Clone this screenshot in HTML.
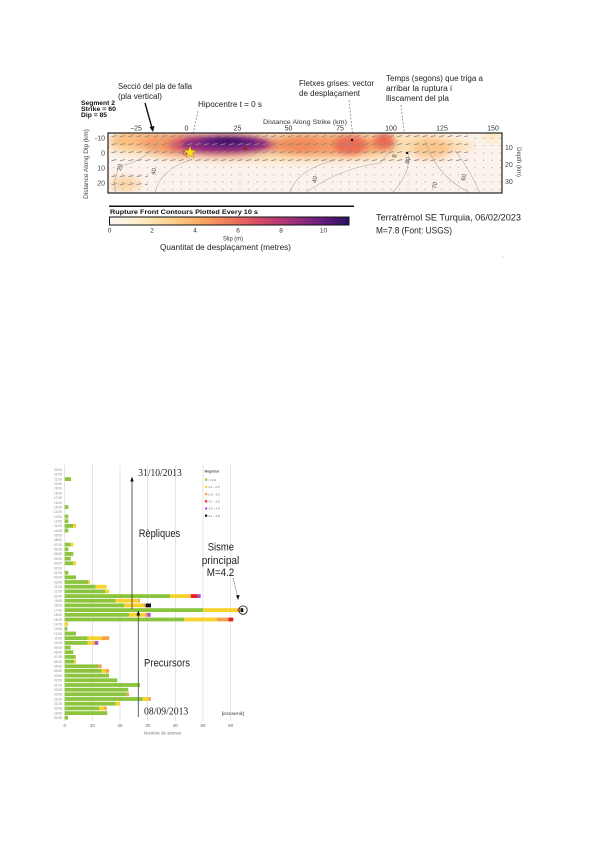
<!DOCTYPE html>
<html><head><meta charset="utf-8"><style>
html,body{margin:0;padding:0;background:#fff;}
svg{display:block;}
text{font-family:"Liberation Sans",sans-serif;}
.serif{font-family:"Liberation Serif",serif;}
</style></head><body>
<svg width="600" height="848" viewBox="0 0 600 848" xmlns="http://www.w3.org/2000/svg">
<defs>
<filter id="bl" x="-50%" y="-50%" width="200%" height="200%"><feGaussianBlur stdDeviation="4"/></filter>
<filter id="bl3" x="-50%" y="-50%" width="200%" height="200%"><feGaussianBlur stdDeviation="3"/></filter>
<filter id="bl2" x="-50%" y="-50%" width="200%" height="200%"><feGaussianBlur stdDeviation="2.5"/></filter>
<clipPath id="box"><rect x="108" y="133" width="394" height="60"/></clipPath>
<pattern id="dash" x="110" y="132" width="8.4" height="8" patternUnits="userSpaceOnUse"><line x1="1.6" y1="4.7" x2="6.6" y2="3.6" stroke="#8a8a8a" stroke-width="0.85"/></pattern>
<pattern id="dots" x="112" y="164" width="8.4" height="7.3" patternUnits="userSpaceOnUse"><circle cx="2" cy="3.5" r="0.55" fill="#999"/></pattern>
<linearGradient id="cb" x1="0" x2="1" y1="0" y2="0">
<stop offset="0" stop-color="#fdf7f4"/><stop offset="0.12" stop-color="#fdeecb"/><stop offset="0.25" stop-color="#fcd48e"/><stop offset="0.38" stop-color="#f9a865"/><stop offset="0.5" stop-color="#ef7a58"/><stop offset="0.62" stop-color="#d84c68"/><stop offset="0.75" stop-color="#a8327a"/><stop offset="0.88" stop-color="#6a1e80"/><stop offset="1" stop-color="#2a1060"/>
</linearGradient>
</defs>

<!-- ================= TOP FIGURE ================= -->
<text x="118" y="89" font-size="8" fill="#222" textLength="74" lengthAdjust="spacingAndGlyphs">Secció del pla de falla</text>
<text x="118" y="99" font-size="8" fill="#222" textLength="44" lengthAdjust="spacingAndGlyphs">(pla vertical)</text>
<line x1="145" y1="103" x2="152" y2="128" stroke="#111" stroke-width="1.4"/>
<polygon points="149.5,127 154.5,126 153,132" fill="#111"/>

<text x="81" y="105" font-size="6" font-weight="bold" fill="#111" textLength="34" lengthAdjust="spacingAndGlyphs">Segment 2</text>
<text x="81" y="111" font-size="6" font-weight="bold" fill="#111" textLength="35" lengthAdjust="spacingAndGlyphs">Strike = 60</text>
<text x="81" y="117" font-size="6" font-weight="bold" fill="#111" textLength="26" lengthAdjust="spacingAndGlyphs">Dip = 85</text>

<text x="198" y="107" font-size="8" fill="#222" textLength="64" lengthAdjust="spacingAndGlyphs">Hipocentre t = 0 s</text>
<line x1="198" y1="111" x2="190" y2="148" stroke="#777" stroke-width="0.7" stroke-dasharray="2,1.5"/>

<text x="299" y="86" font-size="8" fill="#222" textLength="75" lengthAdjust="spacingAndGlyphs">Fletxes grises: vector</text>
<text x="299" y="96" font-size="8" fill="#222" textLength="61" lengthAdjust="spacingAndGlyphs">de desplaçament</text>
<line x1="349" y1="100" x2="353" y2="138" stroke="#777" stroke-width="0.7" stroke-dasharray="2,1.5"/>

<text x="386" y="81" font-size="8" fill="#222" textLength="97" lengthAdjust="spacingAndGlyphs">Temps (segons) que triga a</text>
<text x="386" y="91" font-size="8" fill="#222" textLength="66" lengthAdjust="spacingAndGlyphs">arribar la ruptura i</text>
<text x="386" y="101" font-size="8" fill="#222" textLength="63" lengthAdjust="spacingAndGlyphs">lliscament del pla</text>
<line x1="401" y1="105" x2="405" y2="140" stroke="#777" stroke-width="0.7" stroke-dasharray="2,1.5"/>

<text x="263" y="124" font-size="6.5" fill="#333" textLength="84" lengthAdjust="spacingAndGlyphs">Distance Along Strike (km)</text>
<g font-size="7" fill="#333" text-anchor="middle">
<text x="136" y="130.5">−25</text><text x="186.5" y="130.5">0</text><text x="237.5" y="130.5">25</text><text x="288.5" y="130.5">50</text>
<text x="340" y="130.5">75</text><text x="391" y="130.5">100</text><text x="442" y="130.5">125</text><text x="493" y="130.5">150</text>
</g>
<g font-size="7" fill="#444" text-anchor="end">
<text x="105" y="140.5">-10</text><text x="105" y="155.5">0</text><text x="105" y="170.5">10</text><text x="105" y="185.5">20</text>
</g>
<g font-size="7" fill="#444">
<text x="505" y="150">10</text><text x="505" y="167">20</text><text x="505" y="184">30</text>
</g>
<text transform="translate(88,164) rotate(-90)" font-size="6.5" fill="#444" text-anchor="middle">Distance Along Dip (km)</text>
<text transform="translate(517,162) rotate(90)" font-size="6" fill="#444" text-anchor="middle">Depth (km)</text>

<!-- heatmap -->
<g clip-path="url(#box)">
<rect x="108" y="133" width="394" height="60" fill="#fcf2ed"/>
<g filter="url(#bl)">
<ellipse cx="290" cy="146" rx="185" ry="16" fill="#fde0b4"/>
<ellipse cx="125" cy="184" rx="15" ry="7" fill="#fbd2a0"/>
<ellipse cx="432" cy="148" rx="20" ry="11" fill="#fbc68a"/>
<ellipse cx="492" cy="136" rx="9" ry="5" fill="#fde4b4"/>
<ellipse cx="140" cy="140" rx="30" ry="10" fill="#fbbc7c"/>
<ellipse cx="180" cy="144" rx="40" ry="12" fill="#f59c62"/>
<ellipse cx="325" cy="145" rx="72" ry="11" fill="#f3985e"/>
<ellipse cx="222" cy="145" rx="55" ry="11" fill="#cf4b6c"/>
<ellipse cx="410" cy="162" rx="6" ry="8" fill="#fcf2ed"/>
</g>
<g filter="url(#bl3)">
<ellipse cx="350" cy="145" rx="16" ry="9" fill="#eb6c52"/>
<ellipse cx="384" cy="141" rx="10" ry="8" fill="#ea6a52"/>
<ellipse cx="300" cy="145" rx="18" ry="7" fill="#f28a5a"/>
</g>
<g filter="url(#bl2)">
<ellipse cx="225" cy="144" rx="44" ry="8" fill="#8a2a80"/>
<ellipse cx="228" cy="142" rx="28" ry="5" fill="#5a1a7a"/>
<ellipse cx="228" cy="141" rx="14" ry="3" fill="#3c1068"/>
</g>
<rect x="108" y="133" width="360" height="30" fill="url(#dash)"/>
<rect x="108" y="165" width="394" height="28" fill="url(#dots)"/>
<rect x="468" y="133" width="34" height="32" fill="url(#dots)"/>
<rect x="108" y="170" width="40" height="16" fill="url(#dash)"/>
<g fill="none" stroke="#aaa" stroke-width="0.6">
<path d="M165,133 Q150,160 120,166 Q112,180 116,193"/>
<path d="M190,160 Q160,170 155,193"/>
<path d="M290,193 Q296,170 335,160"/>
<path d="M305,193 Q340,168 380,163 Q392,150 398,140"/>
<path d="M392,193 Q412,172 408,152"/>
<path d="M425,140 Q435,175 470,193"/>
<path d="M455,150 Q470,170 480,193"/>
</g>
<g font-size="6" fill="#444">
<text transform="translate(121,171) rotate(-80)">20</text>
<text transform="translate(155,175) rotate(-80)">40</text>
<text transform="translate(316,183) rotate(-80)">40</text>
<text transform="translate(396,158) rotate(-80)">8</text>
<text transform="translate(409,164) rotate(-80)">60</text>
<text transform="translate(436,189) rotate(-80)">70</text>
<text transform="translate(465,181) rotate(-80)">60</text>
</g>
<circle cx="352" cy="140" r="1.2" fill="#111"/>
<circle cx="407" cy="153" r="1.2" fill="#111"/>
<rect x="244" y="147" width="3" height="3" fill="#a02020"/>
<circle cx="185" cy="153" r="2" fill="none" stroke="#a03030" stroke-width="0.7"/>
<polygon points="190,146 191.6,150.4 196.2,150.5 192.5,153.3 193.9,157.8 190,155.1 186.1,157.8 187.5,153.3 183.8,150.5 188.4,150.4" fill="#f8e020" stroke="#a07000" stroke-width="0.4"/>
</g>
<rect x="108" y="133" width="394" height="60" fill="none" stroke="#222" stroke-width="1.2"/>

<!-- colorbar -->
<line x1="109" y1="206.3" x2="354" y2="206.3" stroke="#111" stroke-width="1.5"/>
<text x="110" y="214" font-size="6" font-weight="bold" fill="#111" textLength="148" lengthAdjust="spacingAndGlyphs">Rupture Front Contours Plotted Every 10 s</text>
<rect x="109.5" y="217" width="239.5" height="8" fill="url(#cb)" stroke="#111" stroke-width="1"/>
<g font-size="6.5" fill="#333" text-anchor="middle">
<text x="109.5" y="232.5">0</text><text x="152" y="232.5">2</text><text x="195" y="232.5">4</text><text x="238" y="232.5">6</text><text x="281" y="232.5">8</text><text x="323.5" y="232.5">10</text>
</g>
<text x="223" y="240.5" font-size="6.5" fill="#333" textLength="20" lengthAdjust="spacingAndGlyphs">Slip (m)</text>
<text x="160" y="250" font-size="8" fill="#222" textLength="131" lengthAdjust="spacingAndGlyphs">Quantitat de desplaçament (metres)</text>
<text x="376" y="220.5" font-size="9" fill="#222" textLength="145" lengthAdjust="spacingAndGlyphs">Terratrèmol SE Turquia, 06/02/2023</text>
<text x="376" y="233.5" font-size="9" fill="#222" textLength="76" lengthAdjust="spacingAndGlyphs">M=7.8 (Font: USGS)</text>
<circle cx="503" cy="257" r="0.6" fill="#bbb"/>

<!-- ================= BOTTOM CHART ================= -->
<g stroke="#d4d4d4" stroke-width="0.6">
<line x1="64.7" y1="465" x2="64.7" y2="721"/>
<line x1="92.4" y1="465" x2="92.4" y2="721"/>
<line x1="120" y1="465" x2="120" y2="721"/>
<line x1="147.7" y1="465" x2="147.7" y2="721"/>
<line x1="175.3" y1="465" x2="175.3" y2="721"/>
<line x1="203" y1="465" x2="203" y2="721"/>
<line x1="230.6" y1="465" x2="230.6" y2="721"/>
</g>
<g font-size="4.5" fill="#666" text-anchor="middle">
<text x="64.7" y="727">0</text><text x="92.4" y="727">10</text><text x="120" y="727">20</text><text x="147.7" y="727">30</text><text x="175.3" y="727">40</text><text x="203" y="727">50</text><text x="230.6" y="727">60</text>
</g>
<text x="162.5" y="734.5" font-size="4.5" fill="#777" text-anchor="middle">Nombre de sismes</text>

<g font-size="3.2" fill="#888" text-anchor="end">
<text x="62" y="471">23:00</text><text x="62" y="475.7">22:00</text><text x="62" y="480.4">21:00</text><text x="62" y="485">20:00</text><text x="62" y="489.7">19:00</text><text x="62" y="494.4">18:00</text><text x="62" y="499.1">17:00</text><text x="62" y="503.8">16:00</text><text x="62" y="508.4">15:00</text><text x="62" y="513.1">14:00</text><text x="62" y="517.8">13:00</text><text x="62" y="522.5">12:00</text><text x="62" y="527.2">11:00</text><text x="62" y="531.8">10:00</text><text x="62" y="536.5">09:00</text><text x="62" y="541.2">08:00</text><text x="62" y="545.9">07:00</text><text x="62" y="550.6">06:00</text><text x="62" y="555.2">05:00</text><text x="62" y="559.9">04:00</text><text x="62" y="564.6">03:00</text><text x="62" y="569.3">02:00</text><text x="62" y="574">01:00</text><text x="62" y="578.6">00:00</text><text x="62" y="583.3">23:00</text><text x="62" y="588">22:00</text><text x="62" y="592.7">21:00</text><text x="62" y="597.4">20:00</text><text x="62" y="602">19:00</text><text x="62" y="606.7">18:00</text><text x="62" y="611.4">17:00</text><text x="62" y="616.1">16:00</text><text x="62" y="620.8">15:00</text><text x="62" y="625.4">14:00</text><text x="62" y="630.1">13:00</text><text x="62" y="634.8">12:00</text><text x="62" y="639.5">11:00</text><text x="62" y="644.2">10:00</text><text x="62" y="648.8">09:00</text><text x="62" y="653.5">08:00</text><text x="62" y="658.2">07:00</text><text x="62" y="662.9">06:00</text><text x="62" y="667.6">05:00</text><text x="62" y="672.2">04:00</text><text x="62" y="676.9">03:00</text><text x="62" y="681.6">02:00</text><text x="62" y="686.3">01:00</text><text x="62" y="691">00:00</text><text x="62" y="695.6">23:00</text><text x="62" y="700.3">22:00</text><text x="62" y="705">21:00</text><text x="62" y="709.7">20:00</text><text x="62" y="714.4">19:00</text><text x="62" y="719">00:00</text>
</g>

<g>
<g fill="#8cc43e">
<rect x="64.7" y="477.2" width="6.3" height="3.8"/>
<rect x="64.7" y="505.2" width="3.6" height="3.8"/>
<rect x="64.7" y="514.6" width="3.6" height="3.8"/>
<rect x="64.7" y="519.3" width="3.6" height="3.8"/>
<rect x="64.7" y="524" width="8.6" height="3.8"/>
<rect x="64.7" y="528.6" width="3.6" height="3.8"/>
<rect x="64.7" y="542.7" width="6" height="3.8"/>
<rect x="64.7" y="547.4" width="3.6" height="3.8"/>
<rect x="64.7" y="552" width="8.6" height="3.8"/>
<rect x="64.7" y="556.7" width="6" height="3.8"/>
<rect x="64.7" y="561.4" width="8.6" height="3.8"/>
<rect x="64.7" y="570.8" width="3.6" height="3.8"/>
<rect x="64.7" y="575.4" width="11.3" height="3.8"/>
<rect x="64.7" y="580.1" width="23.6" height="3.8"/>
<rect x="64.7" y="584.8" width="31" height="3.8"/>
<rect x="64.7" y="589.5" width="40.3" height="3.8"/>
<rect x="64.7" y="594.2" width="105.3" height="3.8"/>
<rect x="64.7" y="598.8" width="51" height="3.8"/>
<rect x="64.7" y="603.5" width="59.3" height="3.8"/>
<rect x="64.7" y="608.2" width="138.6" height="3.8"/>
<rect x="64.7" y="612.9" width="64.3" height="3.8"/>
<rect x="64.7" y="617.6" width="119.6" height="3.8"/>
<rect x="64.7" y="626.9" width="2.6" height="3.8"/>
<rect x="64.7" y="631.6" width="11.3" height="3.8"/>
<rect x="64.7" y="636.3" width="23" height="3.8"/>
<rect x="64.7" y="641" width="23" height="3.8"/>
<rect x="64.7" y="645.6" width="6" height="3.8"/>
<rect x="64.7" y="650.3" width="8.6" height="3.8"/>
<rect x="64.7" y="655" width="11" height="3.8"/>
<rect x="64.7" y="659.7" width="9.3" height="3.8"/>
<rect x="64.7" y="664.4" width="33.6" height="3.8"/>
<rect x="64.7" y="669" width="37" height="3.8"/>
<rect x="64.7" y="673.7" width="44.3" height="3.8"/>
<rect x="64.7" y="678.4" width="52.6" height="3.8"/>
<rect x="64.7" y="683.1" width="75.3" height="3.8"/>
<rect x="64.7" y="687.8" width="63.6" height="3.8"/>
<rect x="64.7" y="692.4" width="62" height="3.8"/>
<rect x="64.7" y="697.1" width="78" height="3.8"/>
<rect x="64.7" y="701.8" width="51" height="3.8"/>
<rect x="64.7" y="706.5" width="34.3" height="3.8"/>
<rect x="64.7" y="711.2" width="42.6" height="3.8"/>
<rect x="64.7" y="715.8" width="3.3" height="3.8"/>
</g>
<g fill="#f5d22c">
<rect x="73.3" y="524" width="2.7" height="3.8"/>
<rect x="70.7" y="542.7" width="2.6" height="3.8"/>
<rect x="73.3" y="561.4" width="2.7" height="3.8"/>
<rect x="88.3" y="580.1" width="1.7" height="3.8"/>
<rect x="95.7" y="584.8" width="11" height="3.8"/>
<rect x="105" y="589.5" width="4.3" height="3.8"/>
<rect x="170" y="594.2" width="19.3" height="3.8"/>
<rect x="115.7" y="598.8" width="22.6" height="3.8"/>
<rect x="124" y="603.5" width="19.3" height="3.8"/>
<rect x="203.3" y="608.2" width="33.4" height="3.8"/>
<rect x="129" y="612.9" width="16" height="3.8"/>
<rect x="184.3" y="617.6" width="32.4" height="3.8"/>
<rect x="64.7" y="622.2" width="3.3" height="3.8"/>
<rect x="87.7" y="636.3" width="14" height="3.8"/>
<rect x="87.7" y="641" width="5.6" height="3.8"/>
<rect x="74" y="659.7" width="2" height="3.8"/>
<rect x="101.7" y="669" width="4.3" height="3.8"/>
<rect x="142.7" y="697.1" width="5.6" height="3.8"/>
<rect x="115.7" y="701.8" width="4.3" height="3.8"/>
<rect x="99" y="706.5" width="5.3" height="3.8"/>
</g>
<g fill="#f3a24a">
<rect x="189.3" y="594.2" width="1.7" height="3.8"/>
<rect x="138.3" y="598.8" width="1.7" height="3.8"/>
<rect x="143.3" y="603.5" width="2.4" height="3.8"/>
<rect x="236.7" y="608.2" width="4" height="3.8"/>
<rect x="145" y="612.9" width="2.3" height="3.8"/>
<rect x="216.7" y="617.6" width="11.6" height="3.8"/>
<rect x="101.7" y="636.3" width="7.6" height="3.8"/>
<rect x="93.3" y="641" width="1.7" height="3.8"/>
<rect x="98.3" y="664.4" width="3.4" height="3.8"/>
<rect x="106" y="669" width="3" height="3.8"/>
<rect x="126.7" y="692.4" width="2.3" height="3.8"/>
<rect x="148.3" y="697.1" width="2.4" height="3.8"/>
<rect x="104.3" y="706.5" width="2.4" height="3.8"/>
</g>
<g fill="#e62020">
<rect x="191" y="594.2" width="6.7" height="3.8"/>
<rect x="228.3" y="617.6" width="5" height="3.8"/>
</g>
<g fill="#a552d6">
<rect x="197.7" y="594.2" width="3" height="3.8"/>
<rect x="147.3" y="612.9" width="3.4" height="3.8"/>
<rect x="95" y="641" width="3.3" height="3.8"/>
</g>
<g fill="#111">
<rect x="145.7" y="603.5" width="5.3" height="3.8"/>
<rect x="240.7" y="608.2" width="2.6" height="3.8"/>
</g>
</g>
<circle cx="243" cy="610.1" r="4.2" fill="none" stroke="#111" stroke-width="0.8"/>

<!-- legend -->
<text x="204.5" y="472.3" font-size="3.3" font-weight="bold" fill="#555">Magnitud</text>
<g font-size="3" fill="#666">
<rect x="205" y="478.5" width="2.2" height="2.2" fill="#8cc43e"/><text x="208.5" y="480.8">&lt;=2.0</text>
<rect x="205" y="485.8" width="2.2" height="2.2" fill="#f5d22c"/><text x="208.5" y="488">2.1 - 2.5</text>
<rect x="205" y="493" width="2.2" height="2.2" fill="#f3a24a"/><text x="208.5" y="495.3">2.6 - 3.0</text>
<rect x="205" y="500.2" width="2.2" height="2.2" fill="#e62020"/><text x="208.5" y="502.5">3.1 - 3.5</text>
<rect x="205" y="507.4" width="2.2" height="2.2" fill="#a552d6"/><text x="208.5" y="509.7">3.6 - 4.0</text>
<rect x="205" y="514.6" width="2.2" height="2.2" fill="#111"/><text x="208.5" y="516.9">4.1 - 4.5</text>
</g>

<!-- annotations -->
<line x1="132" y1="481" x2="132" y2="609" stroke="#333" stroke-width="0.8"/>
<polygon points="132,476.5 130.3,481.5 133.7,481.5" fill="#111"/>
<text x="138.3" y="476" font-size="10.5" class="serif" fill="#222" textLength="43.5" lengthAdjust="spacingAndGlyphs">31/10/2013</text>
<text x="138.7" y="537" font-size="11" fill="#222" textLength="41.5" lengthAdjust="spacingAndGlyphs">Rèpliques</text>
<text x="207.7" y="550.5" font-size="11" fill="#222" textLength="26.3" lengthAdjust="spacingAndGlyphs">Sisme</text>
<text x="201.7" y="564" font-size="11" fill="#222" textLength="37.6" lengthAdjust="spacingAndGlyphs">principal</text>
<text x="206.7" y="576" font-size="11" fill="#222" textLength="27.6" lengthAdjust="spacingAndGlyphs">M=4.2</text>
<line x1="233" y1="578" x2="237.5" y2="596" stroke="#444" stroke-width="0.6" stroke-dasharray="1.5,1"/>
<polygon points="238.2,600 236,595.5 239.6,595" fill="#111"/>

<line x1="138.3" y1="615" x2="138.3" y2="717" stroke="#555" stroke-width="0.9"/>
<polygon points="138.3,610.5 136.4,615.5 140.2,615.5" fill="#111"/>
<text x="144" y="666.5" font-size="11" fill="#222" textLength="46" lengthAdjust="spacingAndGlyphs">Precursors</text>
<text x="144" y="714.5" font-size="10.5" class="serif" fill="#222" textLength="44.3" lengthAdjust="spacingAndGlyphs">08/09/2013</text>
<text x="221.7" y="715" font-size="4.5" fill="#333" textLength="22.3" lengthAdjust="spacingAndGlyphs">[escsenit]</text>
</svg>
</body></html>
